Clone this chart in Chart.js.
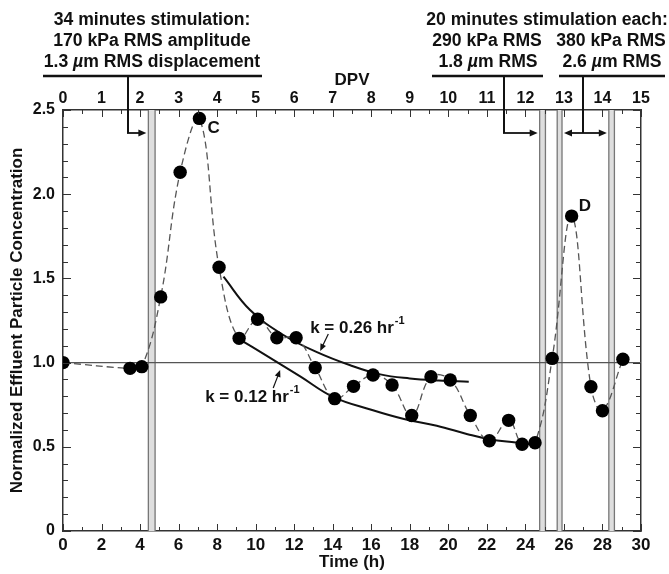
<!DOCTYPE html>
<html><head><meta charset="utf-8">
<script src="https://cdn.jsdelivr.net/npm/chart.js@4.4.1/dist/chart.umd.min.js"></script>
<style>html,body{margin:0;padding:0;background:#fff;}canvas{display:block;}</style>
</head><body>
<canvas id="c" width="669" height="574"></canvas>
<script>
// ---- data ----
const timeH = [0, 3.48, 4.09, 5.07, 6.08, 7.08, 8.1, 9.14, 10.1, 11.1, 12.1, 13.09, 14.1, 15.08, 16.09, 17.08, 18.1, 19.1, 20.1, 21.14, 22.13, 23.13, 23.83, 24.5, 25.39, 26.4, 27.4, 28.0, 29.06];
const concentration = [1.0, 0.966, 0.976, 1.39, 2.13, 2.45, 1.566, 1.144, 1.257, 1.148, 1.148, 0.97, 0.786, 0.859, 0.926, 0.867, 0.686, 0.916, 0.897, 0.686, 0.536, 0.657, 0.515, 0.524, 1.025, 1.87, 0.857, 0.714, 1.02];
const fitFastT = [8.33, 9.71, 11.44, 13.18, 14.91, 16.47, 18.0, 19.5, 21.06];
const fitFastV = [1.51, 1.312, 1.164, 1.062, 0.984, 0.93, 0.906, 0.894, 0.887];
const fitSlowT = [9.14, 10.58, 12.31, 14.04, 16.0, 17.7, 19.4, 21.0, 22.13, 23.5, 24.6];
const fitSlowV = [1.14, 1.04, 0.918, 0.795, 0.72, 0.665, 0.625, 0.575, 0.545, 0.525, 0.51];
const refT = [0, 30];
const refV = [1, 1];
const stimStart = [4.43, 24.74, 25.65, 28.33];
const stimEnd = [4.78, 25.04, 25.9, 28.62];
const timeTicks = [0, 2, 4, 6, 8, 10, 12, 14, 16, 18, 20, 22, 24, 26, 28, 30];
const dpvTicks = [0, 1, 2, 3, 4, 5, 6, 7, 8, 9, 10, 11, 12, 13, 14, 15];
const yTicks = [0, 0.5, 1.0, 1.5, 2.0, 2.5];
const yTickLabels = ['0', '0.5', '1.0', '1.5', '2.0', '2.5'];

const FONT = '"Liberation Sans", Arial, Helvetica, sans-serif';
const INK = '#111';
const pts = (xs, ys) => xs.map((v, i) => ({x: v, y: ys[i]}));
const setTicks = vals => s => { s.ticks = vals.map(v => ({value: v})); };

function arrowHead(ctx, x0, y0, x1, y1, len, half) {
  const a = Math.atan2(y1 - y0, x1 - x0);
  ctx.beginPath();
  ctx.moveTo(x1, y1);
  ctx.lineTo(x1 - len * Math.cos(a) + half * Math.sin(a), y1 - len * Math.sin(a) - half * Math.cos(a));
  ctx.lineTo(x1 - len * Math.cos(a) - half * Math.sin(a), y1 - len * Math.sin(a) + half * Math.cos(a));
  ctx.closePath();
  ctx.fill();
}
function arrow(ctx, x0, y0, x1, y1, lw, len, half) {
  const a = Math.atan2(y1 - y0, x1 - x0);
  ctx.lineWidth = lw;
  ctx.beginPath(); ctx.moveTo(x0, y0); ctx.lineTo(x1 - (len - 1) * Math.cos(a), y1 - (len - 1) * Math.sin(a)); ctx.stroke();
  arrowHead(ctx, x0, y0, x1, y1, len, half);
}
function rich(ctx, segs, cx, cy, size) {
  const fonts = segs.map(s => (s[1] ? 'italic bold ' : 'bold ') + size + 'px ' + FONT);
  let w = 0;
  segs.forEach((s, i) => { ctx.font = fonts[i]; w += ctx.measureText(s[0]).width; });
  let x = cx - w / 2;
  ctx.textAlign = 'left'; ctx.textBaseline = 'middle';
  segs.forEach((s, i) => { ctx.font = fonts[i]; ctx.fillText(s[0], x, cy); x += ctx.measureText(s[0]).width; });
}
function kLabel(ctx, text, x, y) {
  ctx.textAlign = 'left'; ctx.textBaseline = 'middle';
  ctx.font = 'bold 17px ' + FONT;
  ctx.fillText(text, x, y);
  const w = ctx.measureText(text).width;
  ctx.font = 'bold 11px ' + FONT;
  ctx.fillText('-1', x + w + 1, y - 7);
}

const deco = {
  id: 'deco',
  beforeDatasetsDraw(chart) {
    const {ctx, chartArea: a, scales: {x}} = chart;
    ctx.save();
    stimStart.forEach((s, i) => {
      const x0 = x.getPixelForValue(s), x1 = x.getPixelForValue(stimEnd[i]);
      ctx.fillStyle = '#dedede';
      ctx.fillRect(x0, a.top, x1 - x0, a.bottom - a.top);
      ctx.strokeStyle = '#777'; ctx.lineWidth = 1.3;
      ctx.beginPath();
      ctx.moveTo(x0, a.top); ctx.lineTo(x0, a.bottom);
      ctx.moveTo(x1, a.top); ctx.lineTo(x1, a.bottom);
      ctx.stroke();
    });
    ctx.restore();
  },
  afterDatasetsDraw(chart) {
    const {ctx, chartArea: a, scales: {x, xTop, y}} = chart;
    ctx.save();
    ctx.strokeStyle = '#333'; ctx.lineWidth = 1;
    ctx.beginPath();
    for (let t = 0; t <= 30; t++) {
      const px = Math.round(x.getPixelForValue(t)) + 0.5;
      const len = t % 2 === 0 ? 7 : 4;
      ctx.moveTo(px, a.bottom); ctx.lineTo(px, a.bottom - len);
    }
    for (let d = 0; d <= 30; d++) {
      const v = d / 2;
      const px = Math.round(xTop.getPixelForValue(v)) + 0.5;
      const len = d % 2 === 0 ? 7 : 4;
      ctx.moveTo(px, a.top); ctx.lineTo(px, a.top + len);
    }
    for (let k = 0; k <= 25; k++) {
      const py = Math.round(y.getPixelForValue(k / 10)) + 0.5;
      const len = k % 5 === 0 ? 8 : 5;
      ctx.moveTo(a.left, py); ctx.lineTo(a.left + len, py);
      ctx.moveTo(a.right, py); ctx.lineTo(a.right - len, py);
    }
    ctx.stroke();

    // point labels C and D
    ctx.fillStyle = INK;
    ctx.font = 'bold 17px ' + FONT;
    ctx.textAlign = 'left'; ctx.textBaseline = 'middle';
    ctx.fillText('C', x.getPixelForValue(timeH[5]) + 8, y.getPixelForValue(concentration[5]) + 10);
    ctx.fillText('D', x.getPixelForValue(timeH[25]) + 7, y.getPixelForValue(concentration[25]) - 10);

    // rate-constant labels
    kLabel(ctx, 'k = 0.26 hr', x.getPixelForValue(12.83), y.getPixelForValue(1.205));
    kLabel(ctx, 'k = 0.12 hr', x.getPixelForValue(7.38), y.getPixelForValue(0.796));
    ctx.strokeStyle = INK;
    arrow(ctx, x.getPixelForValue(13.77), y.getPixelForValue(1.17), x.getPixelForValue(13.35), y.getPixelForValue(1.069), 1.2, 7, 3);
    arrow(ctx, x.getPixelForValue(10.91), y.getPixelForValue(0.849), x.getPixelForValue(11.27), y.getPixelForValue(0.956), 1.2, 7, 3);
    ctx.restore();
  },
  afterDraw(chart) {
    const {ctx, chartArea: a, scales: {x}} = chart;
    ctx.save();
    ctx.fillStyle = INK; ctx.strokeStyle = INK;
    const S = 17.6;
    rich(ctx, [['34 minutes stimulation:']], 152, 20, S);
    rich(ctx, [['170 kPa RMS amplitude']], 152, 41, S);
    rich(ctx, [['1.3 '], ['\u00b5', 1], ['m RMS displacement']], 152, 62, S);
    rich(ctx, [['20 minutes stimulation each:']], 547, 20, S);
    rich(ctx, [['290 kPa RMS']], 487, 41, S);
    rich(ctx, [['380 kPa RMS']], 611, 41, S);
    rich(ctx, [['1.8 '], ['\u00b5', 1], ['m RMS']], 488, 62, S);
    rich(ctx, [['2.6 '], ['\u00b5', 1], ['m RMS']], 612, 62, S);

    const barY = 76, arY = a.top + 23;
    ctx.lineWidth = 2.5;
    ctx.beginPath();
    ctx.moveTo(43, barY); ctx.lineTo(262, barY);
    ctx.moveTo(432, barY); ctx.lineTo(543, barY);
    ctx.moveTo(559, barY); ctx.lineTo(665, barY);
    ctx.stroke();
    ctx.lineWidth = 2;
    ctx.beginPath();
    ctx.moveTo(128, barY); ctx.lineTo(128, arY);
    ctx.moveTo(504, barY); ctx.lineTo(504, arY);
    ctx.moveTo(583, barY); ctx.lineTo(583, arY);
    ctx.stroke();
    const b1 = x.getPixelForValue(stimStart[0]) - 2;
    const b2 = x.getPixelForValue(stimStart[1]) - 2;
    const b3 = x.getPixelForValue(stimEnd[2]) + 2;
    const b4 = x.getPixelForValue(stimStart[3]) - 2;
    arrow(ctx, 127, arY, b1, arY, 1.8, 8, 3.5);
    arrow(ctx, 503, arY, b2, arY, 1.8, 8, 3.5);
    arrow(ctx, 583, arY, b3, arY, 1.8, 8, 3.5);
    arrow(ctx, 583, arY, b4, arY, 1.8, 8, 3.5);
    ctx.restore();
  }
};

const tickFont = {family: FONT, size: 16, weight: 'bold'};
const bottomTickFont = {family: FONT, size: 17, weight: 'bold'};
const titleFont = {family: FONT, size: 17, weight: 'bold'};
const border = {display: true, color: '#333', width: 1.5};

new Chart(document.getElementById('c'), {
  type: 'line',
  data: {
    datasets: [
      {label: 'Effluent', data: pts(timeH, concentration), borderColor: '#555', borderWidth: 1.3, borderDash: [7, 4],
        tension: 0.4, pointRadius: 6.7, pointHoverRadius: 6.7, pointBackgroundColor: '#000', pointBorderColor: '#000', pointBorderWidth: 0, fill: false},
      {label: 'k = 0.26', data: pts(fitFastT, fitFastV), borderColor: '#111', borderWidth: 2, tension: 0.4, pointRadius: 0, fill: false},
      {label: 'k = 0.12', data: pts(fitSlowT, fitSlowV), borderColor: '#111', borderWidth: 2, tension: 0.4, pointRadius: 0, fill: false},
      {label: 'baseline', data: pts(refT, refV), borderColor: '#555', borderWidth: 1.2, tension: 0, pointRadius: 0, fill: false}
    ]
  },
  options: {
    responsive: false, animation: false, events: [],
    layout: {padding: {top: 70, left: 0, right: 0, bottom: 0}},
    plugins: {legend: {display: false}, tooltip: {enabled: false}},
    scales: {
      x: {type: 'linear', position: 'bottom', min: 0, max: 30,
        afterBuildTicks: setTicks(timeTicks), afterFit: s => { s.height = 43; },
        grid: {display: false, drawTicks: false}, border,
        ticks: {font: bottomTickFont, color: INK, padding: 4, maxRotation: 0, autoSkip: false},
        title: {display: true, text: 'Time (h)', font: titleFont, color: INK, padding: {top: 1, bottom: 1}}},
      xTop: {type: 'linear', position: 'top', min: 0, max: 15,
        afterBuildTicks: setTicks(dpvTicks), afterFit: s => { s.height = 40; },
        grid: {display: false, drawTicks: false}, border,
        ticks: {font: tickFont, color: INK, padding: 2, maxRotation: 0, autoSkip: false},
        title: {display: true, text: 'DPV', font: titleFont, color: INK, padding: 0}},
      y: {type: 'linear', position: 'left', min: 0, max: 2.5,
        afterBuildTicks: setTicks(yTicks), afterFit: s => { s.width = 63; },
        grid: {display: false, drawTicks: false}, border,
        ticks: {font: tickFont, color: INK, padding: 8, autoSkip: false,
          callback: v => yTickLabels[yTicks.indexOf(v)]},
        title: {display: true, text: 'Normalized Effluent Particle Concentration', font: titleFont, color: INK, padding: 7}},
      yRight: {type: 'linear', position: 'right', min: 0, max: 2.5,
        afterFit: s => { s.width = 28; },
        grid: {display: false, drawTicks: false}, border,
        ticks: {display: false}}
    }
  },
  plugins: [deco]
});
</script>
</body></html>
